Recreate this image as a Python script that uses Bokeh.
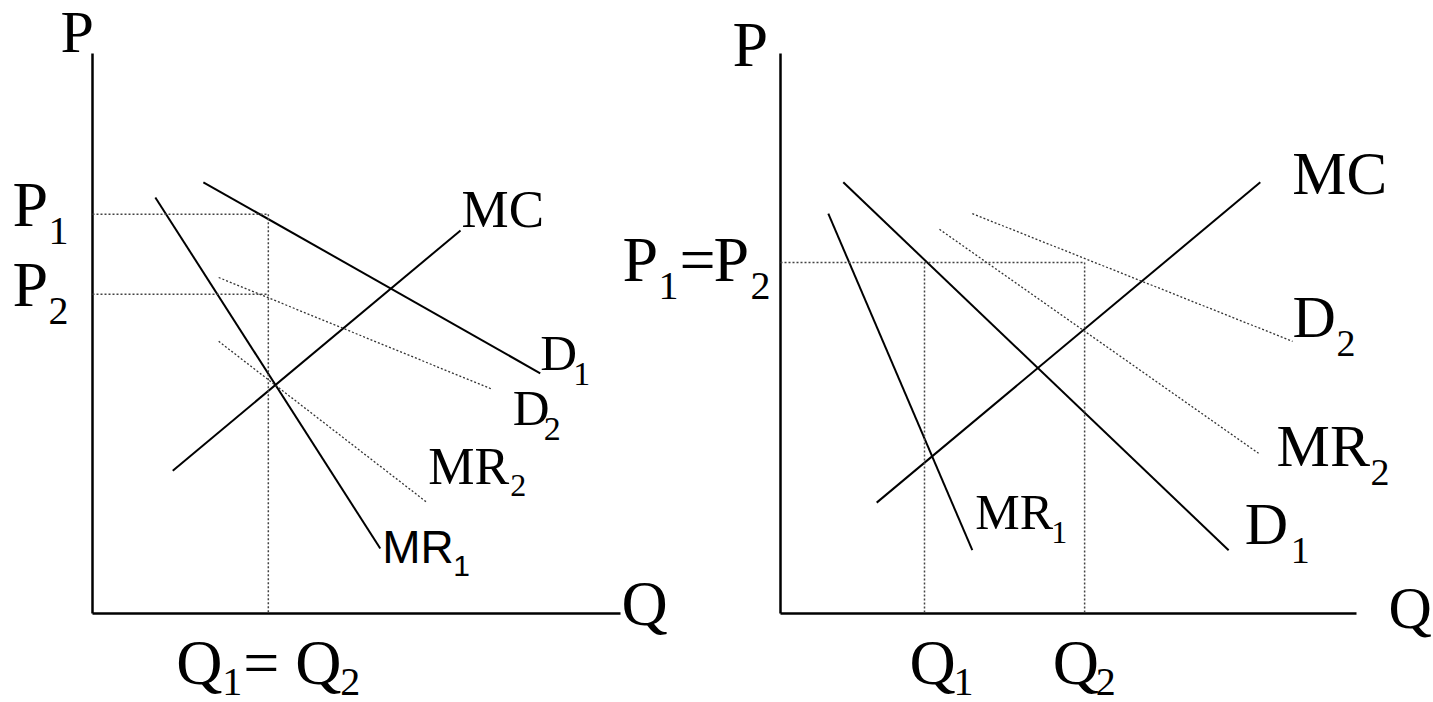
from bokeh.plotting import figure
from bokeh.models import Range1d, ColumnDataSource
from bokeh.core.properties import value
from bokeh.embed import file_html
from bokeh.resources import INLINE

# ---------------- data (Q, P in chart units, axes run 0..100) ----------------
# Left panel: Q1 = Q2, different prices
left_curves = ["MR1", "D1", "MC", "D2", "MR2"]
left_q_start = [11.9, 21.0, 15.2, 23.9, 23.9]
left_p_start = [74.3, 77.0, 25.5, 60.0, 48.6]
left_q_end = [54.5, 84.8, 69.7, 75.8, 63.4]
left_p_end = [11.6, 42.9, 68.4, 40.0, 19.8]
left_P1 = 71.3
left_P2 = 57.0
left_Qeq = 33.3

# Right panel: P1 = P2, different quantities
right_curves = ["MR1", "D1", "MC", "MR2", "D2"]
right_q_start = [8.3, 10.9, 16.7, 27.6, 33.3]
right_p_start = [71.4, 77.0, 19.8, 68.6, 71.4]
right_q_end = [33.3, 77.8, 83.3, 83.0, 88.9]
right_p_end = [11.3, 11.3, 77.0, 28.6, 48.6]
right_Peq = 62.7
right_Q1 = 25.0
right_Q2 = 52.8

dotted_curves = {"D2", "MR2"}
AXIS_MAX = 100.0

# ---------------- layout ----------------
FIG_W, FIG_H = 1433, 702
OFF = 0
L_ORIGIN = (92, 613)
R_ORIGIN = (780, 613)
L_XLEN, R_XLEN, YLEN = 528.0, 576.0, 560.0
SX = {"left": L_XLEN / AXIS_MAX, "right": R_XLEN / AXIS_MAX}
SY = YLEN / AXIS_MAX
BASELINE_FIX = 0.4  # renderer places alphabetic baseline ~0.4em lower

lx0 = -(L_ORIGIN[0] - OFF) / SX["left"]
rx0 = -(R_ORIGIN[0] - OFF) / SX["right"]
y0 = -(FIG_H - (L_ORIGIN[1] - OFF)) / SY

p = figure(width=FIG_W, height=FIG_H, output_backend="svg", toolbar_location=None,
           min_border=0, x_axis_type=None, y_axis_type=None,
           x_range=Range1d(lx0, lx0 + FIG_W / SX["left"]),
           y_range=Range1d(y0, y0 + FIG_H / SY))
p.extra_x_ranges = {"right": Range1d(rx0, rx0 + FIG_W / SX["right"])}
p.outline_line_color = None
p.background_fill_color = "white"
p.border_fill_color = "white"

SERIF = "Liberation Serif"
SANS = "Liberation Sans"


def rn(panel):
    return "default" if panel == "left" else "right"


def draw_panel(panel, names, q0, p0, q1, p1):
    solid = [i for i, n in enumerate(names) if n not in dotted_curves]
    dot = [i for i, n in enumerate(names) if n in dotted_curves]
    for idx, style in ((solid, dict(line_width=2, line_color="black")),
                       (dot, dict(line_width=1.3, line_color="#333333", line_dash="2 2"))):
        src = ColumnDataSource(dict(x0=[q0[i] for i in idx], y0=[p0[i] for i in idx],
                                    x1=[q1[i] for i in idx], y1=[p1[i] for i in idx]))
        p.segment("x0", "y0", "x1", "y1", source=src, x_range_name=rn(panel), **style)
    # axes
    p.segment(x0=[0, 0], y0=[0, 0], x1=[0, AXIS_MAX], y1=[AXIS_MAX, 0],
              line_width=2.5, line_color="black", x_range_name=rn(panel))


def guide(panel, xs0, ys0, xs1, ys1):
    p.segment(x0=xs0, y0=ys0, x1=xs1, y1=ys1, line_width=1.5, line_color="#444444",
              line_dash="2 2", x_range_name=rn(panel))


def lab(panel, q, pv, dx, dy, txt, size, font=SERIF):
    x = q + dx / SX[panel]
    y = pv - (dy - BASELINE_FIX * size) / SY
    p.text(x=[x], y=[y], text=[txt], text_font=value(font), text_font_size=f"{size}px",
           text_baseline="alphabetic", text_align="left", text_color="black",
           x_range_name=rn(panel))


draw_panel("left", left_curves, left_q_start, left_p_start, left_q_end, left_p_end)
draw_panel("right", right_curves, right_q_start, right_p_start, right_q_end, right_p_end)

guide("left", [0, 0, left_Qeq], [left_P1, left_P2, left_P1],
      [left_Qeq, left_Qeq, left_Qeq], [left_P1, left_P2, 0])
guide("right", [0, right_Q1, right_Q2], [right_Peq, right_Peq, right_Peq],
      [right_Q2, right_Q1, right_Q2], [right_Peq, 0, 0])

# curve labels anchored at curve ends
LE = {n: (left_q_end[i], left_p_end[i]) for i, n in enumerate(left_curves)}
RE = {n: (right_q_end[i], right_p_end[i]) for i, n in enumerate(right_curves)}

# left panel
lab("left", *LE["MC"], 1, 0, "MC", 53)
lab("left", *LE["D1"], 0, 0, "D", 51)
lab("left", *LE["D1"], 33, 14, "1", 34)
lab("left", *LE["D2"], 20, 39, "D", 51)
lab("left", *LE["D2"], 51, 53, "2", 34)
lab("left", *LE["MR2"], 1, -15, "MR", 52)
lab("left", *LE["MR2"], 83, -4, "2", 32)
lab("left", *LE["MR1"], 2, 17, "MR", 46, SANS)
lab("left", *LE["MR1"], 73, 29, "1", 30, SANS)
# left axes labels
lab("left", 0, AXIS_MAX, -32, 2, "P", 60)
lab("left", 0, left_P1, -80, 16, "P", 64)
lab("left", 0, left_P1, -44, 33, "1", 40)
lab("left", 0, left_P2, -80, 16, "P", 64)
lab("left", 0, left_P2, -44, 33, "2", 40)
lab("left", AXIS_MAX, 0, 1, 16, "Q", 64)
lab("left", left_Qeq, 0, -92, 75, "Q", 64)
lab("left", left_Qeq, 0, -46, 84, "1", 40)
lab("left", left_Qeq, 0, -25, 75, "=", 64)
lab("left", left_Qeq, 0, 27, 75, "Q", 64)
lab("left", left_Qeq, 0, 72, 84, "2", 40)

# right panel
lab("right", *RE["MC"], 32, 16, "MC", 61)
lab("right", *RE["D2"], 0, 0, "D", 60)
lab("right", *RE["D2"], 44, 17, "2", 38)
lab("right", *RE["MR2"], 18, 17, "MR", 60)
lab("right", *RE["MR2"], 112, 34, "2", 38)
lab("right", *RE["D1"], 16, -2, "D", 60)
lab("right", *RE["D1"], 62, 15, "1", 38)
lab("right", *RE["MR1"], 3, -18, "MR", 50)
lab("right", *RE["MR1"], 79, -5, "1", 32)
lab("right", 0, AXIS_MAX, -48, 17, "P", 64)
lab("right", 0, right_Peq, -158, 23, "P", 64)
lab("right", 0, right_Peq, -122, 40, "1", 40)
lab("right", 0, right_Peq, -101, 23, "=", 64)
lab("right", 0, right_Peq, -67, 23, "P", 64)
lab("right", 0, right_Peq, -30, 40, "2", 40)
lab("right", AXIS_MAX, 0, 32, 18, "Q", 60)
lab("right", right_Q1, 0, -15, 75, "Q", 64)
lab("right", right_Q1, 0, 29, 84, "1", 40)
lab("right", right_Q2, 0, -32, 75, "Q", 64)
lab("right", right_Q2, 0, 11, 84, "2", 40)

open("out.html", "w").write(file_html(p, INLINE))
